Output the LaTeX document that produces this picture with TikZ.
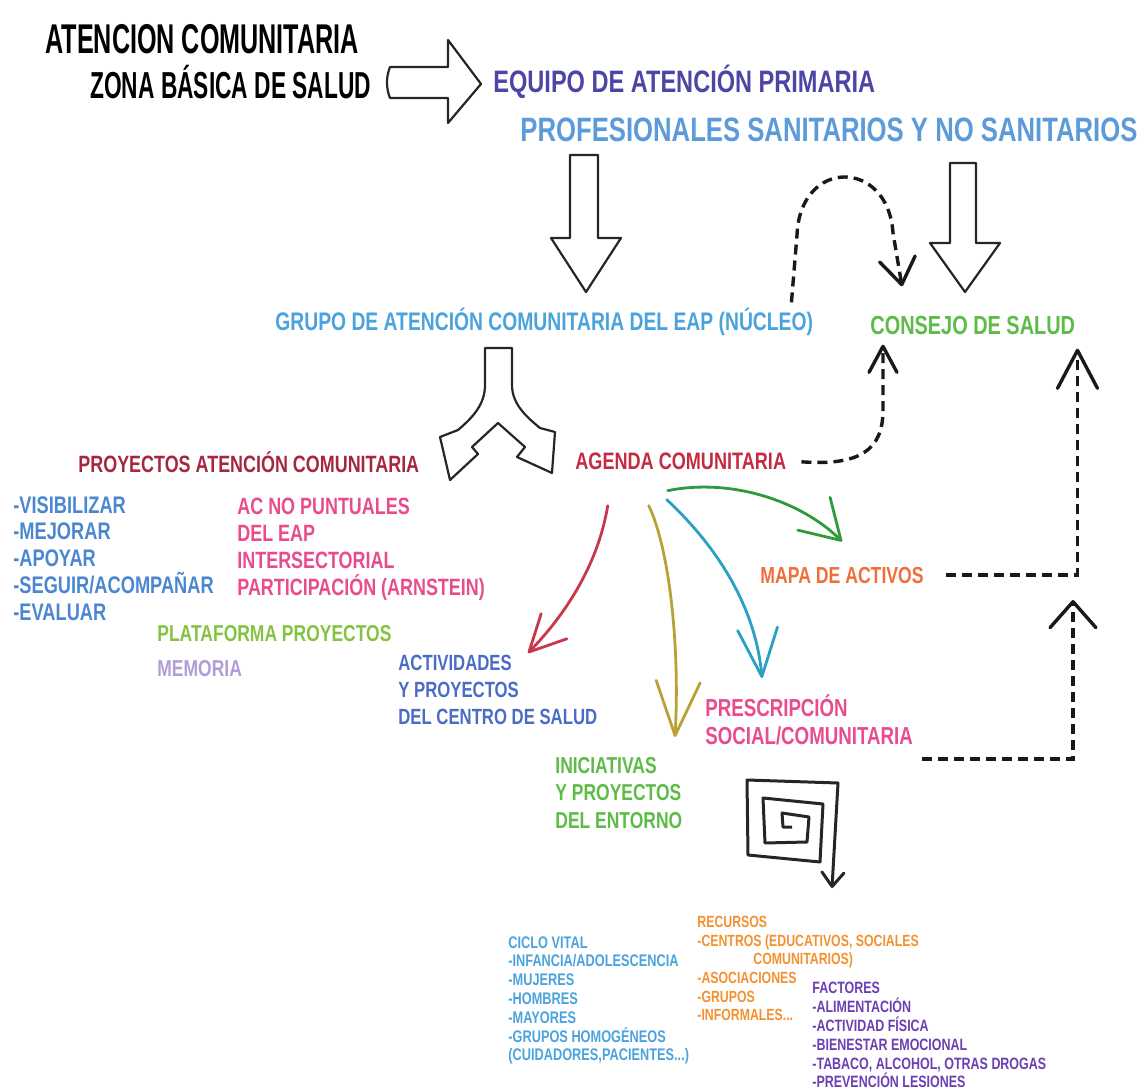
\documentclass[tikz,border=0pt]{standalone}
\usepackage{fontspec}
\setmainfont{Liberation Sans}[FakeStretch=0.76]
\newfontfamily\estrecha{Liberation Sans}[FakeStretch=0.605]
\usepackage{xcolor}
\usepackage{tikz}
\usetikzlibrary{arrows.meta, calc}
\definecolor{equipoazul}{HTML}{4D45A5}
\definecolor{profazul}{HTML}{5B9BD9}
\definecolor{grupoazul}{HTML}{4BA3DD}
\definecolor{verdeconsejo}{HTML}{5DBB47}
\definecolor{granate}{HTML}{A52744}
\definecolor{rojoagenda}{HTML}{C52A40}
\definecolor{azullista}{HTML}{4A87D0}
\definecolor{rosa}{HTML}{E94C8C}
\definecolor{verdeclaro}{HTML}{82C341}
\definecolor{lila}{HTML}{B19CD9}
\definecolor{azulact}{HTML}{4A6CC4}
\definecolor{naranja}{HTML}{EE6F3B}
\definecolor{naranjaclaro}{HTML}{F39130}
\definecolor{morado}{HTML}{6B3FB3}
\definecolor{flverde}{HTML}{2F9A3C}
\definecolor{flrojo}{HTML}{C8374A}
\definecolor{floliva}{HTML}{B8A236}
\definecolor{flazul}{HTML}{2B9FC4}
\newcommand{\letra}[2]{\fontsize{#1pt}{#2pt}\selectfont\bfseries}
\tikzstyle{txt} = [inner sep=0pt, anchor=base west]
\tikzstyle{bloque} = [draw=black!85, line width=1.1pt, fill=white, line join=round]
\tikzstyle{flecha} = [line width=1.4pt, line cap=round]
\tikzstyle{discont} = [line width=1.7pt, dash pattern=on 5pt off 3pt, black!90]
\tikzstyle{espiral} = [line width=1.5pt, black!85, line join=round]

\begin{document}
\begin{tikzpicture}[x=0.5pt, y=-0.5pt]
            \useasboundingbox (0,0) rectangle (1147,1091);
            \node[txt, font=\estrecha\letra{20.8}{22}] (titulo) at (45,54) {ATENCION COMUNITARIA};
            \node[txt, font=\estrecha\letra{18.8}{20}] (zona) at (90,99) {ZONA BÁSICA DE SALUD};
            \node[txt, font=\letra{15.5}{18}, text=equipoazul] (equipo) at (493,93) {EQUIPO DE ATENCIÓN PRIMARIA};
            \node[txt, font=\letra{16.9}{18}, text=profazul] (profes) at (520,142) {PROFESIONALES SANITARIOS Y NO SANITARIOS};
            \node[txt, font=\letra{12.7}{14}, text=grupoazul] (grupo) at (275,331) {GRUPO DE ATENCIÓN COMUNITARIA DEL EAP (NÚCLEO)};
            \node[txt, font=\letra{13.1}{14}, text=verdeconsejo] (consejo) at (870,335) {CONSEJO DE SALUD};
            \node[txt, font=\letra{11.8}{13}, text=granate] (proyectos) at (78,473) {PROYECTOS ATENCIÓN COMUNITARIA};
            \node[txt, font=\letra{11.9}{13}, text=rojoagenda] (agenda) at (575,470) {AGENDA COMUNITARIA};
            \node[inner sep=0pt, anchor=north west, align=left, font=\letra{12}{13.4}, text=azullista] (objetivos) at (13,496)
                {-VISIBILIZAR\\-MEJORAR\\-APOYAR\\-SEGUIR/ACOMPAÑAR\\-EVALUAR};
            \node[inner sep=0pt, anchor=north west, align=left, font=\letra{11.8}{13.5}, text=rosa] (acciones) at (237,498)
                {AC NO PUNTUALES\\DEL EAP\\INTERSECTORIAL\\PARTICIPACIÓN (ARNSTEIN)};
            \node[txt, font=\letra{11.5}{13}, text=verdeclaro] (plataforma) at (157,641) {PLATAFORMA PROYECTOS};
            \node[txt, font=\letra{11.5}{13}, text=lila] (memoria) at (157,676) {MEMORIA};
            \node[inner sep=0pt, anchor=north west, align=left, font=\letra{11}{13.5}, text=azulact] (actividades) at (398,655)
                {ACTIVIDADES\\Y PROYECTOS\\DEL CENTRO DE SALUD};
            \node[inner sep=0pt, anchor=north west, align=left, font=\letra{11.5}{13.75}, text=verdeconsejo] (iniciativas) at (555,757)
                {INICIATIVAS\\Y PROYECTOS\\DEL ENTORNO};
            \node[inner sep=0pt, anchor=north west, align=left, font=\letra{12.3}{14}, text=rosa] (prescripcion) at (705,694)
                {PRESCRIPCIÓN\\SOCIAL/COMUNITARIA};
            \node[txt, font=\letra{11.6}{13}, text=naranja] (mapa) at (760,583) {MAPA DE ACTIVOS};
            \node[inner sep=0pt, anchor=north west, align=left, font=\letra{8.4}{9.4}, text=grupoazul] (ciclo) at (508,936)
                {CICLO VITAL\\-INFANCIA/ADOLESCENCIA\\-MUJERES\\-HOMBRES\\-MAYORES\\-GRUPOS HOMOGÉNEOS\\(CUIDADORES,PACIENTES...)};
            \node[inner sep=0pt, anchor=north west, align=left, font=\letra{8.1}{9.3}, text=naranjaclaro] (recursos) at (697,916)
                {RECURSOS\\-CENTROS (EDUCATIVOS, SOCIALES\\\hspace{28pt}COMUNITARIOS)\\-ASOCIACIONES\\-GRUPOS\\-INFORMALES...};
            \node[inner sep=0pt, anchor=north west, align=left, font=\letra{8.2}{9.4}, text=morado] (factores) at (812,982)
                {FACTORES\\-ALIMENTACIÓN\\-ACTIVIDAD FÍSICA\\-BIENESTAR EMOCIONAL\\-TABACO, ALCOHOL, OTRAS DROGAS\\-PREVENCIÓN LESIONES};

            \draw[bloque] (390,67) -- (448,67) -- (448,40) -- (481,84) -- (448,123) -- (448,98) -- (390,98) .. controls (386,88) and (386,77) .. cycle;
            \draw[bloque] (570,155) -- (598,155) -- (598,238) -- (621,238) -- (586,292) -- (551,238) -- (570,238) -- cycle;
            \draw[bloque] (950,163) -- (976,163) -- (976,243) -- (1000,243) -- (965,292) -- (930,243) -- (950,243) -- cycle;
            \draw[bloque] (485,348) -- (512,348) -- (512,385) .. controls (512,405) and (528,418) .. (540,428) -- (555,432) -- (552,473)
                -- (517,457) -- (525,447) -- (498,423) -- (472,447) -- (478,454) -- (450,480) -- (440,437) -- (458,430)
                .. controls (472,418) and (485,405) .. (485,385) -- cycle;

            \draw[discont, -{Straight Barb[length=13pt, width=18pt, round]}] ($(grupo.east)+(-22,-20)$) -- (797,235) .. controls (800,158) and (888,158) .. (893,233) -- ($(consejo.north west)+(32,-30)$);
            \draw[discont, -{Straight Barb[length=13pt, width=14pt, round]}] ($(agenda.east)+(15,0)$) .. controls (860,466) and (883,450) .. (883,410) -- ($(consejo.south west)+(13,9)$);
            \draw[discont, -{Straight Barb[length=19pt, width=20pt, round]}] ($(mapa.east)+(22,0)$) -| ($(consejo.south east)+(2,13)$);
            \coordinate (junta) at (1073,600);
            \draw[discont, -{Straight Barb[length=13pt, width=23pt, round]}] ($(prescripcion.south east)+(9,14)$) -| (junta);

            \draw[flecha, flrojo, -{Straight Barb[length=18pt, width=18pt, round]}] ($(agenda.south)+(-73,35)$) .. controls (598,565) and (565,615) .. ($(actividades.north west)+(130,-2)$);
            \draw[flecha, floliva, -{Straight Barb[length=27pt, width=22pt, round]}] ($(agenda.south)+(-32,35)$) .. controls (670,550) and (680,650) .. ($(iniciativas.north west)+(120,-20)$);
            \draw[flecha, flazul, -{Straight Barb[length=24pt, width=20pt, round]}] ($(agenda.south)+(-14,29)$) .. controls (710,540) and (755,600) .. ($(prescripcion.north west)+(57,-16)$);
            \draw[flecha, flverde, -{Straight Barb[length=19pt, width=23pt, round]}] ($(agenda.south)+(-13,20)$) .. controls (730,478) and (800,500) .. ($(mapa.north west)+(82,-25)$);

            \draw[espiral, -{Straight Barb[length=7pt, width=11pt, round]}] (792,827) -- (783,827) -- (782,813) -- (809,817) -- (807,842) -- (765,843) -- (763,798) -- (823,804) -- (820,862) -- (748,855) -- (747,780) -- (838,783) -- (832,888);
        \end{tikzpicture}
\end{document}
